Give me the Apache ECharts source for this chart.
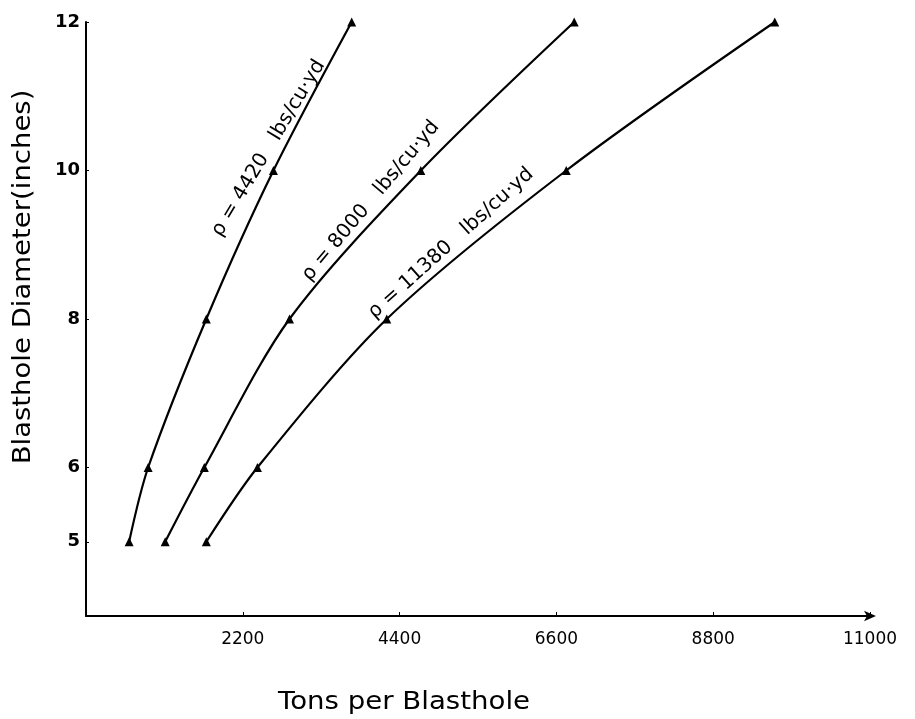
<!DOCTYPE html>
<html>
<head>
<meta charset="utf-8">
<script src="https://cdn.jsdelivr.net/npm/echarts@6/dist/echarts.min.js"></script>
<style>
html,body{margin:0;padding:0;background:#fff;}
#main{width:915px;height:719px;}
</style>
</head>
<body>
<div id="main"></div>
<script>
// Data
const diameters = [5, 6, 8, 10, 12];              // inches
const tons4420  = [605, 872, 1688, 2630, 3728];   // tons per blasthole
const tons8000  = [1111, 1660, 2855, 4698, 6850];
const tons11380 = [1688, 2405, 4220, 6738, 9664];
const xTickLabels = [2200, 4400, 6600, 8800, 11000];
const yTickLabels = [5, 6, 8, 10, 12];
const curveLabels = ['ρ = 4420   lbs/cu·yd', 'ρ = 8000   lbs/cu·yd', 'ρ = 11380   lbs/cu·yd'];

function pairs(xs, ys) { return xs.map((x, i) => [x, ys[i]]); }

const chart = echarts.init(document.getElementById('main'));
const lineStyle = { color: '#000', width: 2.2 };
function curve(name, xs) {
  return {
    name: name, type: 'line', data: pairs(xs, diameters),
    smooth: 0.3, symbol: 'triangle', symbolSize: 9, showSymbol: true,
    itemStyle: { color: '#000' }, lineStyle: lineStyle, z: 3
  };
}
chart.setOption({
  animation: false,
  backgroundColor: '#fff',
  grid: { left: 86, right: 45, top: 22, bottom: 103 },
  xAxis: {
    type: 'value', min: 0, max: 11000, interval: 2200,
    axisLine: { lineStyle: { color: '#000', width: 2 }, symbol: ['none', 'arrow'], symbolSize: [8, 12], symbolOffset: [0, 6] },
    axisTick: { show: true, inside: true, length: 4, customValues: xTickLabels, lineStyle: { color: '#000' } },
    axisLabel: { customValues: xTickLabels, formatter: v => String(v), color: '#000', fontSize: 17, fontFamily: 'DejaVu Sans', margin: 15 },
    splitLine: { show: false }
  },
  yAxis: {
    type: 'value', min: 4, max: 12, interval: 1,
    axisLine: { show: true, lineStyle: { color: '#000', width: 2 } },
    axisTick: { show: true, inside: true, length: 3, customValues: yTickLabels, lineStyle: { color: '#000' } },
    axisLabel: { customValues: yTickLabels, color: '#000', fontSize: 18, fontWeight: 'bold', fontFamily: 'DejaVu Sans', margin: 6 },
    splitLine: { show: false }
  },
  series: [curve('4420', tons4420), curve('8000', tons8000), curve('11380', tons11380)]
});

// Curve labels placed in data coordinates, then converted to pixels
const labelAnchors = [
  { coord: [2560, 10.3], angle: 59 },
  { coord: [3995, 9.59], angle: 50 },
  { coord: [5120, 9.02], angle: 42 }
];
const graphics = labelAnchors.map((a, i) => {
  const p = chart.convertToPixel({ gridIndex: 0 }, a.coord);
  return {
    type: 'text', x: p[0], y: p[1], rotation: a.angle * Math.PI / 180,
    style: { text: curveLabels[i], fill: '#000', font: '20px "DejaVu Sans"', textAlign: 'center', textVerticalAlign: 'middle' }
  };
});
graphics.push({
  type: 'text', x: 404, y: 703, scaleX: 1.15,
  style: { text: 'Tons per Blasthole', fill: '#000', font: '24px "DejaVu Sans"', textAlign: 'center', textVerticalAlign: 'middle' }
});
graphics.push({
  type: 'text', x: 23, y: 277, rotation: Math.PI / 2, scaleX: 1.1,
  style: { text: 'Blasthole Diameter(inches)', fill: '#000', font: '25px "DejaVu Sans"', textAlign: 'center', textVerticalAlign: 'middle' }
});
chart.setOption({ graphic: graphics });
</script>
</body>
</html>
